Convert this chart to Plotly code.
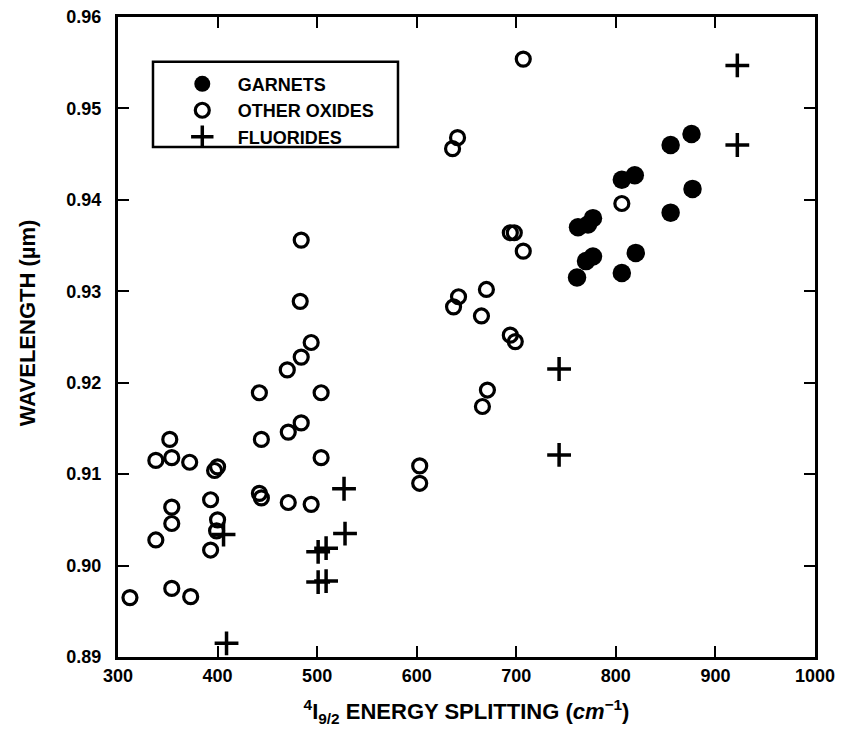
import plotly.graph_objects as go

# GARNETS (filled circles)
garnet_x = [761, 806, 820, 770, 777, 762, 772, 777, 806, 819, 855, 877, 855, 876]
garnet_y = [0.9315, 0.9320, 0.9342, 0.9333, 0.9338, 0.9370, 0.9373, 0.9380,
            0.9422, 0.9427, 0.9386, 0.9412, 0.9460, 0.9472]

# OTHER OXIDES (open circles)
oxide_x = [312, 338, 338, 352, 354, 354, 354, 354, 372, 373, 393, 393, 397, 400, 400, 399,
           442, 444, 442, 444, 470, 471, 471, 484, 483, 484, 494, 484, 494, 504, 504,
           603, 603, 636, 641, 637, 642, 665, 670, 666, 671, 694, 699, 694, 698, 707, 707, 806]
oxide_y = [0.8965, 0.9115, 0.9028, 0.9138, 0.9118, 0.9064, 0.9046, 0.8975, 0.9113, 0.8966,
           0.9072, 0.9017, 0.9104, 0.9108, 0.9050, 0.9038,
           0.9189, 0.9138, 0.9079, 0.9074, 0.9214, 0.9146, 0.9069, 0.9356, 0.9289, 0.9228,
           0.9244, 0.9156, 0.9067, 0.9189, 0.9118,
           0.9109, 0.9090, 0.9456, 0.9468, 0.9283, 0.9294, 0.9273, 0.9302, 0.9174, 0.9192,
           0.9252, 0.9245, 0.9364, 0.9364, 0.9344, 0.9554, 0.9396]

# FLUORIDES (crosses)
fluor_x = [406, 409, 501, 509, 501, 509, 527, 528, 743, 743, 922, 922]
fluor_y = [0.9034, 0.8915, 0.9015, 0.9019, 0.8982, 0.8983, 0.9084, 0.9035,
           0.9215, 0.9121, 0.9547, 0.9460]

x_ticks = [300, 400, 500, 600, 700, 800, 900, 1000]
y_ticks = [0.89, 0.90, 0.91, 0.92, 0.93, 0.94, 0.95, 0.96]

FONT = "Liberation Sans"

fig = go.Figure()
fig.add_trace(go.Scatter(
    x=garnet_x, y=garnet_y, mode="markers", name="GARNETS",
    marker=dict(symbol="circle", size=18.5, color="black", line=dict(width=0)),
))
fig.add_trace(go.Scatter(
    x=oxide_x, y=oxide_y, mode="markers", name="OTHER OXIDES",
    marker=dict(symbol="circle-open", size=14, color="black", line=dict(width=3.2, color="black")),
))
fig.add_trace(go.Scatter(
    x=fluor_x, y=fluor_y, mode="markers", name="FLUORIDES",
    marker=dict(symbol="cross-thin-open", size=17, color="black", line=dict(width=3.5, color="black")),
))

axis_common = dict(
    showgrid=False, zeroline=False, showline=True, linecolor="black", linewidth=3,
    mirror="ticks", ticks="inside", ticklen=11, tickwidth=2, tickcolor="black",
    tickfont=dict(family=FONT, size=18, color="black", weight="bold"),
    automargin=False, ticklabeloverflow="allow",
)

fig.update_layout(
    width=836, height=723,
    margin=dict(l=110, r=29, t=9, b=74),
    paper_bgcolor="white", plot_bgcolor="white",
    showlegend=True,
    legend=dict(
        x=0.07, y=0.924, xanchor="left", yanchor="top",
        borderwidth=0, bgcolor="rgba(0,0,0,0)",
        font=dict(family=FONT, size=18, color="black", weight="bold"),
        itemsizing="trace", itemwidth=61, tracegroupgap=0,
    ),
    xaxis=dict(
        range=[300, 1000], tickvals=x_ticks, ticktext=[str(v) for v in x_ticks],
        title=dict(text="<sup>4</sup>I<sub>9/2</sub> ENERGY SPLITTING (<i>cm</i><sup>−1</sup>)",
                   font=dict(family=FONT, size=22, color="black", weight="bold"), standoff=20),
        **axis_common,
    ),
    yaxis=dict(
        range=[0.89, 0.96], tickvals=y_ticks, ticktext=[f"{v:.2f}" for v in y_ticks],
        ticklabelstandoff=10,
        **axis_common,
    ),
    shapes=[dict(type="rect", xref="paper", yref="paper",
                 x0=0.0502, x1=0.4017, y0=0.797, y1=0.930,
                 line=dict(color="black", width=2.5), fillcolor="white", layer="below")],
    annotations=[dict(text="WAVELENGTH (µm)", xref="paper", yref="paper",
                      x=-0.1306, y=0.523, xanchor="center", yanchor="middle",
                      textangle=-90, showarrow=False,
                      font=dict(family=FONT, size=22, color="black", weight="bold"))],
)

fig.write_html("out.html")
